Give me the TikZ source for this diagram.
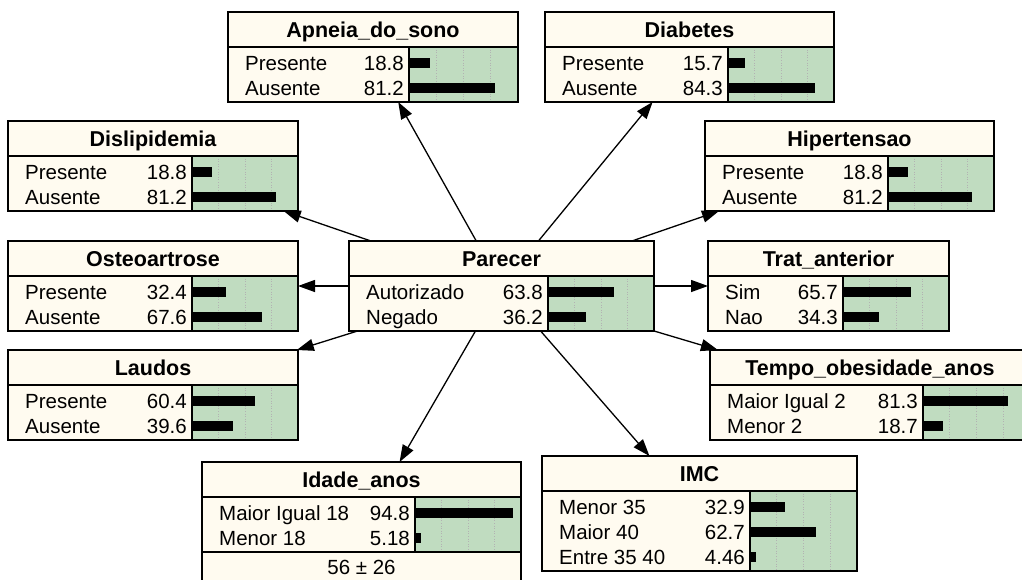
\documentclass[tikz,border=0pt]{standalone}
\usepackage{fontspec}
\setmainfont{Liberation Sans}
\usetikzlibrary{arrows.meta,fit}
\definecolor{cream}{HTML}{FFFBF0}
\definecolor{bngreen}{HTML}{C0DCC0}
\tikzset{
  frame/.style={line width=1.3pt, black},
  gridln/.style={gray!60, dotted, line width=0.6pt},
  titletext/.style={inner sep=0pt, anchor=base, font=\fontsize{21.5}{24}\selectfont\bfseries},
  rowtext/.style={inner sep=0pt, font=\fontsize{20.5}{24}\selectfont},
  conn/.style={line width=1.3pt, -{Triangle[length=17pt,width=12pt]}},
  boxfit/.style={inner sep=0pt, outer sep=0pt, draw=none}
}
% #1 name, #2 L, #3 T, #4 R, #5 G, #6 green bottom, #7 outer bottom, #8 title
\newcommand\bnnode[8]{%
  \fill[cream] (#2,#3) rectangle (#4,#7);
  \fill[bngreen] (#5,#3+35) rectangle (#4,#6);
  \foreach \f in {0.25,0.5,0.75}
    \draw[gridln] ({#5+\f*(#4-#5)},#3+35) -- ({#5+\f*(#4-#5)},#6);
  \draw[frame] (#2,#3) rectangle (#4,#7);
  \draw[frame] (#2,#3+35) -- (#4,#3+35);
  \draw[frame] (#2,#6) -- (#4,#6);
  \draw[frame] (#5,#3+35) -- (#5,#6);
  \node[titletext] (#1-title) at ({(#2+#4)/2},#3+25) {#8};
  \node[boxfit, fit={(#2,#3)(#4,#7)}] (#1) {};
}
% #1 name, #2 index, #3 L, #4 G, #5 R, #6 S, #7 label, #8 value, #9 pct
\newcommand\bnrow[9]{%
  \node[rowtext, anchor=base west] (#1-l#2) at (#3+17,{#6+16+25*(#2-1)+7}) {#7};
  \node[rowtext, anchor=base east] (#1-v#2) at (#4-5,{#6+16+25*(#2-1)+7}) {#8};
  \fill ({#4+1},{#6+16+25*(#2-1)-5}) rectangle ({#4+1+#9/100*(#5-#4-4)},{#6+16+25*(#2-1)+5});
}
\begin{document}
\begin{tikzpicture}[x=1pt,y=-1pt]
\useasboundingbox (0,0) rectangle (1022,579);
\clip (0,0) rectangle (1022,579);
\fill[white] (0,0) rectangle (1022,579);

% Apneia_do_sono
\bnnode{apnea}{228}{12}{518}{409}{102}{102}{Apneia\_do\_sono}
\bnrow{apnea}{1}{228}{409}{518}{47}{Presente}{18.8}{18.8}
\bnrow{apnea}{2}{228}{409}{518}{47}{Ausente}{81.2}{81.2}

% Diabetes
\bnnode{diab}{545}{12}{834}{728}{102}{102}{Diabetes}
\bnrow{diab}{1}{545}{728}{834}{47}{Presente}{15.7}{15.7}
\bnrow{diab}{2}{545}{728}{834}{47}{Ausente}{84.3}{84.3}

% Dislipidemia
\bnnode{disl}{8}{121}{298}{192}{211}{211}{Dislipidemia}
\bnrow{disl}{1}{8}{192}{298}{156}{Presente}{18.8}{18.8}
\bnrow{disl}{2}{8}{192}{298}{156}{Ausente}{81.2}{81.2}

% Hipertensao
\bnnode{hiper}{705}{121}{994}{888}{211}{211}{Hipertensao}
\bnrow{hiper}{1}{705}{888}{994}{156}{Presente}{18.8}{18.8}
\bnrow{hiper}{2}{705}{888}{994}{156}{Ausente}{81.2}{81.2}

% Osteoartrose
\bnnode{osteo}{8}{241}{298}{192}{331}{331}{Osteoartrose}
\bnrow{osteo}{1}{8}{192}{298}{276}{Presente}{32.4}{32.4}
\bnrow{osteo}{2}{8}{192}{298}{276}{Ausente}{67.6}{67.6}

% Parecer
\bnnode{parecer}{349}{241}{654}{548}{331}{331}{Parecer}
\bnrow{parecer}{1}{349}{548}{654}{276}{Autorizado}{63.8}{63.8}
\bnrow{parecer}{2}{349}{548}{654}{276}{Negado}{36.2}{36.2}

% Trat_anterior
\bnnode{trat}{708}{241}{949}{843}{331}{331}{Trat\_anterior}
\bnrow{trat}{1}{708}{843}{949}{276}{Sim}{65.7}{65.7}
\bnrow{trat}{2}{708}{843}{949}{276}{Nao}{34.3}{34.3}

% Laudos
\bnnode{laudos}{8}{350}{298}{192}{440}{440}{Laudos}
\bnrow{laudos}{1}{8}{192}{298}{385}{Presente}{60.4}{60.4}
\bnrow{laudos}{2}{8}{192}{298}{385}{Ausente}{39.6}{39.6}

% Tempo_obesidade_anos
\bnnode{tempo}{710}{350}{1030}{923}{440}{440}{Tempo\_obesidade\_anos}
\bnrow{tempo}{1}{710}{923}{1030}{385}{Maior Igual 2}{81.3}{81.3}
\bnrow{tempo}{2}{710}{923}{1030}{385}{Menor 2}{18.7}{18.7}

% Idade_anos
\bnnode{idade}{202}{462}{521}{415}{552}{594}{Idade\_anos}
\bnrow{idade}{1}{202}{415}{521}{497}{Maior Igual 18}{94.8}{94.8}
\bnrow{idade}{2}{202}{415}{521}{497}{Menor 18}{5.18}{5.18}
\node[rowtext, anchor=base] (idade-mean) at (361.5,574) {56 ± 26};

% IMC
\bnnode{imc}{542}{456}{857}{750}{571}{571}{IMC}
\bnrow{imc}{1}{542}{750}{857}{491}{Menor 35}{32.9}{32.9}
\bnrow{imc}{2}{542}{750}{857}{491}{Maior 40}{62.7}{62.7}
\bnrow{imc}{3}{542}{750}{857}{491}{Entre 35 40}{4.46}{4.46}

% connectors
\foreach \t in {apnea,diab,disl,hiper,osteo,trat,laudos,tempo,idade,imc}
  \draw[conn] (parecer) -- (\t);
\end{tikzpicture}
\end{document}
